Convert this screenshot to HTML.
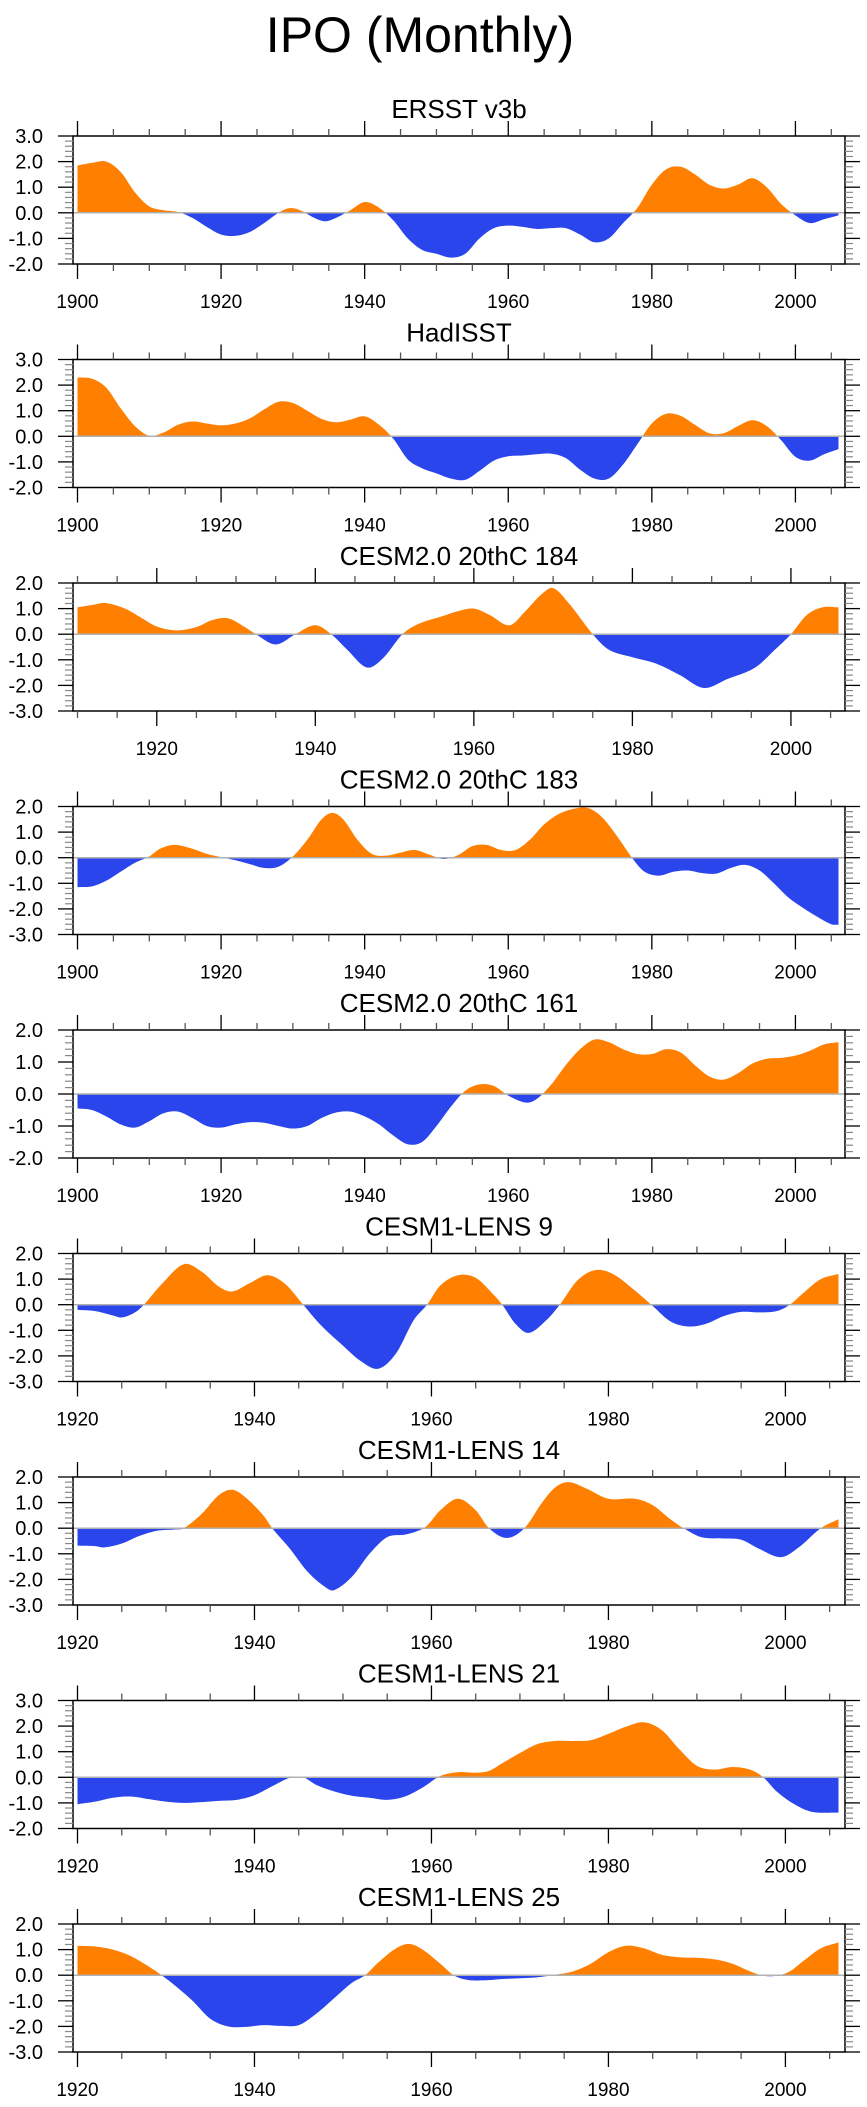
<!DOCTYPE html>
<html><head><meta charset="utf-8"><style>
html,body{margin:0;padding:0;background:#fff;}
svg{display:block;font-family:"Liberation Sans",Arial,sans-serif;}
</style></head><body>
<svg id="chart" width="867" height="2107" viewBox="0 0 867 2107">
<text x="420" y="52" text-anchor="middle" font-size="50">IPO (Monthly)</text>
</svg>
<script>
const titles = ["ERSST v3b","HadISST","CESM2.0 20thC 184","CESM2.0 20thC 183","CESM2.0 20thC 161","CESM1-LENS 9","CESM1-LENS 14","CESM1-LENS 21","CESM1-LENS 25"];
const startYears = [1900,1900,1910,1900,1900,1920,1920,1920,1920];
const yMax = [3,3,2,2,2,2,2,3,2];
const yMin = [-2,-2,-3,-3,-2,-3,-3,-2,-3];
const years0 = [1900,1902,1904,1906,1908,1910,1912,1914,1916,1918,1920,1922,1924,1926,1928,1929.5,1931,1933,1934.5,1936,1938,1940,1942,1944,1946,1948,1950,1952,1954,1956,1958,1960,1962,1964,1966,1968,1970,1972,1974,1976,1978,1980,1982,1984,1986,1988,1990,1992,1994,1996,1998,2000,2002,2004,2006];
const vals0 = [1.85,1.95,2.0,1.6,0.8,0.25,0.1,0.03,-0.2,-0.55,-0.85,-0.9,-0.75,-0.4,0.0,0.18,0.1,-0.2,-0.33,-0.2,0.1,0.42,0.2,-0.3,-1.0,-1.45,-1.6,-1.75,-1.6,-1.0,-0.6,-0.5,-0.55,-0.63,-0.6,-0.6,-0.85,-1.15,-1.0,-0.4,0.2,1.1,1.7,1.8,1.5,1.1,0.95,1.1,1.35,1.0,0.35,-0.1,-0.4,-0.25,-0.1];
const years1 = [1900,1902,1904,1906,1908,1910,1912,1914,1916,1918,1920,1922,1924,1926,1928,1930,1932,1934,1936,1938,1940,1942,1944,1946,1948,1950,1952,1954,1956,1958,1960,1962,1964,1966,1968,1970,1972,1974,1976,1978,1980,1982,1984,1986,1988,1990,1992,1994,1996,1998,2000,2002,2004,2006];
const vals1 = [2.3,2.25,1.9,1.1,0.4,0.02,0.15,0.45,0.58,0.5,0.43,0.5,0.7,1.05,1.35,1.3,1.0,0.68,0.55,0.65,0.78,0.45,-0.1,-0.9,-1.25,-1.45,-1.65,-1.7,-1.35,-0.95,-0.78,-0.75,-0.7,-0.68,-0.85,-1.3,-1.65,-1.65,-1.1,-0.3,0.5,0.88,0.8,0.45,0.12,0.12,0.4,0.63,0.4,-0.15,-0.8,-0.95,-0.7,-0.5];
const years2 = [1910,1912,1913.5,1916,1918,1920,1922.5,1925,1927,1929,1931,1932.5,1935,1937.5,1940,1942,1944,1946.5,1948.5,1951,1953,1956,1958,1960,1962,1964.5,1966.5,1968.5,1970,1972,1975,1977,1980,1983,1986,1989,1992,1995.5,1998,2000,2002,2004,2006];
const vals2 = [1.05,1.15,1.22,1.0,0.65,0.3,0.15,0.28,0.55,0.62,0.3,0,-0.4,0,0.35,0,-0.6,-1.3,-0.95,0,0.4,0.7,0.9,1.0,0.75,0.35,0.9,1.55,1.8,1.2,0,-0.6,-0.9,-1.15,-1.6,-2.1,-1.75,-1.3,-0.6,0,0.75,1.05,1.05];
const years3 = [1900,1902,1904,1906,1908,1910,1911.5,1913.5,1916,1918,1920,1922,1924,1926,1928,1930,1932,1934,1935.5,1937,1939,1941,1943,1945,1947,1949,1951,1953,1955,1957,1959,1961,1963,1965,1967,1969,1971,1973,1975,1977.5,1979,1981,1983,1985,1987,1989,1991,1993,1995,1997,1999,2001,2003,2005,2006];
const vals3 = [-1.15,-1.12,-0.9,-0.55,-0.2,0.05,0.35,0.5,0.35,0.15,0.02,-0.1,-0.25,-0.4,-0.35,0.05,0.7,1.5,1.75,1.5,0.7,0.15,0.08,0.2,0.3,0.12,-0.05,0.1,0.45,0.5,0.3,0.3,0.7,1.3,1.7,1.9,1.95,1.6,0.9,-0.1,-0.55,-0.7,-0.55,-0.5,-0.6,-0.62,-0.4,-0.28,-0.5,-1.0,-1.55,-1.95,-2.3,-2.6,-2.62];
const years4 = [1900,1902,1904,1906,1908,1910,1912,1914,1916,1918,1920,1922,1924,1926,1928,1930,1932,1934,1936,1938,1940,1942,1944,1946,1948,1950,1952,1954,1956,1958,1960,1962.5,1964,1966,1968,1970,1972,1974,1976,1978,1980,1982,1984,1986,1988,1990,1992,1994,1996,1998,2000,2002,2004,2006];
const vals4 = [-0.45,-0.5,-0.7,-0.95,-1.05,-0.85,-0.6,-0.55,-0.75,-1.0,-1.05,-0.95,-0.88,-0.9,-1.0,-1.08,-1.0,-0.75,-0.58,-0.55,-0.7,-0.95,-1.3,-1.57,-1.5,-1.0,-0.4,0.1,0.3,0.25,-0.05,-0.27,-0.15,0.3,0.9,1.4,1.7,1.62,1.4,1.25,1.25,1.4,1.3,0.9,0.55,0.45,0.65,0.95,1.1,1.13,1.2,1.35,1.55,1.62];
const years5 = [1920,1922,1924,1925,1926.5,1927.5,1929.5,1932,1934,1936,1937.5,1939.5,1941.5,1943.5,1945.5,1947.5,1950,1952,1954,1956,1958,1959.5,1961,1963,1965,1967,1968,1969.5,1971,1973,1974.5,1976.5,1978.5,1980.5,1983,1985,1987,1989,1991,1993,1995,1997,1999,2000.5,2002,2004,2006];
const vals5 = [-0.2,-0.25,-0.42,-0.5,-0.3,0,0.8,1.58,1.3,0.7,0.52,0.85,1.15,0.8,0,-0.8,-1.6,-2.2,-2.5,-1.9,-0.6,0,0.75,1.15,1.05,0.4,0,-0.75,-1.1,-0.6,0,0.95,1.35,1.2,0.55,-0.05,-0.65,-0.85,-0.75,-0.45,-0.28,-0.3,-0.25,0,0.45,1.0,1.2];
const years6 = [1920,1922,1923,1925,1927,1929,1931,1932,1934,1936,1937.5,1939,1941,1942,1944,1946,1948,1949,1951,1953,1955,1957,1958.5,1959.5,1961,1963,1965,1966.5,1968.5,1970.5,1972.5,1974,1975.5,1977.5,1980,1983,1985,1987,1988.5,1990.5,1993,1995,1997,1999.5,2001.5,2004,2006];
const vals6 = [-0.68,-0.7,-0.75,-0.6,-0.3,-0.1,-0.05,0,0.55,1.3,1.5,1.2,0.5,0,-0.8,-1.7,-2.3,-2.42,-1.9,-1.0,-0.35,-0.25,-0.1,0.1,0.7,1.15,0.7,0,-0.38,0,1.0,1.6,1.8,1.55,1.15,1.15,0.9,0.35,0,-0.35,-0.4,-0.45,-0.8,-1.13,-0.75,0,0.35];
const years7 = [1920,1922,1924,1926,1928,1930,1932,1934,1936,1938,1940,1942,1944,1945.5,1947,1949,1951,1953,1955,1957,1959,1961,1963,1965,1966.5,1968,1970,1972,1974,1976,1978,1980,1982,1984,1986,1988,1990,1992,1994,1996,1997.5,1999,2001,2003,2006];
const vals7 = [-1.05,-0.95,-0.8,-0.75,-0.85,-0.95,-1.0,-0.97,-0.92,-0.88,-0.7,-0.35,-0.02,0,-0.3,-0.55,-0.72,-0.8,-0.88,-0.75,-0.4,0.05,0.2,0.18,0.25,0.55,0.95,1.3,1.42,1.42,1.45,1.7,1.98,2.15,1.85,1.1,0.45,0.3,0.4,0.3,0,-0.55,-1.05,-1.35,-1.38];
const years8 = [1920,1922,1924,1926,1928,1929.5,1931,1933,1935,1937,1939,1941,1943,1945,1947,1949,1951,1952.5,1954,1956,1957.5,1959,1961,1962.5,1964,1966,1968,1970,1972,1974,1976,1978,1980,1982,1984,1986,1988,1990,1992,1994,1996,1997.5,1999,2000.5,2002,2004,2006];
const vals8 = [1.15,1.12,1.0,0.75,0.35,0,-0.4,-1.0,-1.7,-2.0,-2.02,-1.95,-1.98,-1.95,-1.5,-0.9,-0.3,0,0.5,1.05,1.22,1.0,0.45,0,-0.18,-0.2,-0.15,-0.12,-0.08,0.02,0.15,0.45,0.9,1.15,1.05,0.8,0.7,0.68,0.62,0.45,0.15,-0.02,-0.02,0.15,0.55,1.05,1.28];
const allYears = [years0,years1,years2,years3,years4,years5,years6,years7,years8];
const allVals = [vals0,vals1,vals2,vals3,vals4,vals5,vals6,vals7,vals8];

const NS = "http://www.w3.org/2000/svg";
const svg = document.getElementById('chart');
function mk(tag, attrs, parent){
  const e = document.createElementNS(NS, tag);
  for (const k in attrs) e.setAttribute(k, attrs[k]);
  (parent||svg).appendChild(e);
  return e;
}
function interp(ys, vs, t){
  let i = 0;
  while (i < ys.length-2 && t > ys[i+1]) i++;
  const x0=ys[Math.max(i-1,0)], x1=ys[i], x2=ys[i+1], x3=ys[Math.min(i+2,ys.length-1)];
  const p0=vs[Math.max(i-1,0)], p1=vs[i], p2=vs[i+1], p3=vs[Math.min(i+2,vs.length-1)];
  const h = x2-x1; const u = Math.max(0,Math.min(1,(t-x1)/h));
  const m1 = (p2-p0)/(x2-x0||1)*h, m2 = (p3-p1)/(x3-x1||1)*h;
  const u2=u*u,u3=u2*u;
  return (2*u3-3*u2+1)*p1+(u3-2*u2+u)*m1+(-2*u3+3*u2)*p2+(u3-u2)*m2;
}
const L=73, R=845, H=128;
for (let p=0;p<9;p++){
  const top = 136 + p*223.5, bot = top+H;
  const start = startYears[p];
  const x0px = 77.5;
  const lastYear = allYears[p][allYears[p].length-1];
  const sx = (838.5 - x0px)/(lastYear - start);
  const xScale = y => x0px + (y-start)*sx;
  const yScale = v => top + (yMax[p]-v)/(yMax[p]-yMin[p])*H;
  const g = mk('g',{});
  
  
  const t = mk('text',{x:459,y:top-18,'text-anchor':'middle','font-size':26},g);
  t.textContent = titles[p];
  
  
  const ys = allYears[p], vs = allVals[p];
  const y0 = yScale(0);
  let pos = 'M'+xScale(ys[0])+','+y0, neg = pos;
  for (let yr=ys[0]; yr<=ys[ys.length-1]+1e-6; yr+=1/12){
    const v = interp(ys,vs,yr);
    const x = xScale(yr).toFixed(2);
    pos += ' L'+x+','+yScale(Math.max(v,0)).toFixed(2);
    neg += ' L'+x+','+yScale(Math.min(v,0)).toFixed(2);
  }
  const xe = xScale(ys[ys.length-1]).toFixed(2);
  pos += ' L'+xe+','+y0+' Z'; neg += ' L'+xe+','+y0+' Z';
  const pa = mk('path',{d:pos,fill:'#FF8000'},g);
  
  
  const na = mk('path',{d:neg,fill:'#2A45EC'},g);
  
  
  const zl = mk('line',{x1:L,x2:R,y1:y0,y2:y0,stroke:'#b0b0b0','stroke-width':1.5},g);
  
  
  const box = mk('rect',{x:L,y:top,width:R-L,height:H,fill:'none',stroke:'#000','stroke-width':1.5},g);
  
  
  for (let yr=Math.ceil(start/5)*5; yr<=2006; yr+=5){
    const x = xScale(yr), major = yr%20===0, len = major?15:7;
    mk('line',{x1:x,x2:x,y1:top,y2:top-len,stroke:major?'#000':'#555','stroke-width':1.3},g);
    mk('line',{x1:x,x2:x,y1:bot,y2:bot+len,stroke:major?'#000':'#555','stroke-width':1.3},g);
    if (major){
      const lb = mk('text',{x:x,y:bot+44,'text-anchor':'middle','font-size':19},g);
      lb.textContent = yr;
      
      
    }
  }
  const nMin = Math.round((yMax[p]-yMin[p])*5);
  for (let k=0;k<=nMin;k++){
    const v = yMax[p]-k*0.2, y = yScale(v), major = k%5===0, len = major?15:8;
    mk('line',{x1:L,x2:L-len,y1:y,y2:y,stroke:major?'#000':'#888','stroke-width':major?1.3:1.2},g);
    mk('line',{x1:R,x2:R+len,y1:y,y2:y,stroke:major?'#000':'#888','stroke-width':major?1.3:1.2},g);
    if (major){
      const lb = mk('text',{x:43,y:y+7,'text-anchor':'end','font-size':20},g);
      lb.textContent = (Math.round(v*10)/10).toFixed(1);
      
      
    }
  }
}
</script>
</body></html>
